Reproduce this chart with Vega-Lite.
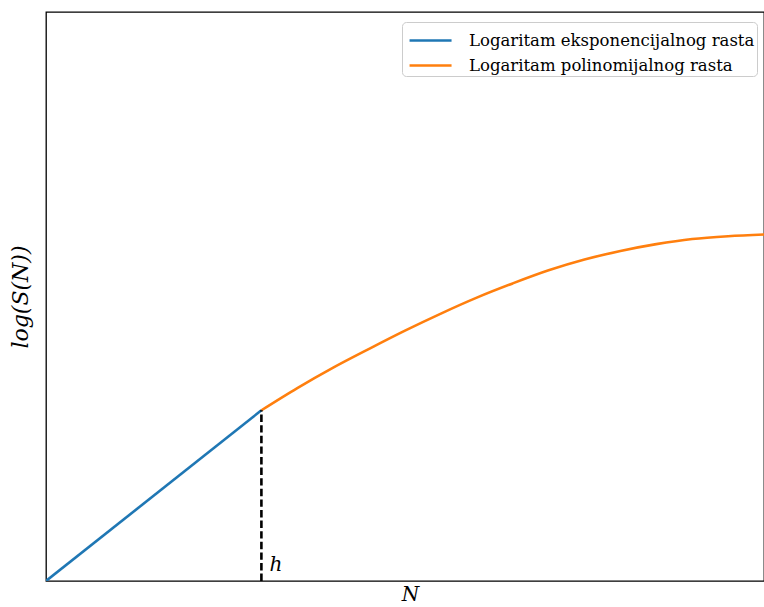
{
  "$schema": "https://vega.github.io/schema/vega-lite/v6.json",
  "width": 718,
  "height": 569,
  "autosize": {"type": "none"},
  "padding": {"left": 46, "top": 12, "right": 0, "bottom": 26},
  "background": "white",
  "config": {
    "view": {"stroke": "black", "strokeWidth": 1.3},
    "font": "DejaVu Serif"
  },
  "datasets": {
    "curves": [
      {"N": 0, "logS": 0, "series": "Logaritam eksponencijalnog rasta"},
      {"N": 3, "logS": 3, "series": "Logaritam eksponencijalnog rasta"},
      {"N": 3, "logS": 3, "series": "Logaritam polinomijalnog rasta"},
      {"N": 3.5, "logS": 3.39, "series": "Logaritam polinomijalnog rasta"},
      {"N": 4, "logS": 3.75, "series": "Logaritam polinomijalnog rasta"},
      {"N": 4.5, "logS": 4.08, "series": "Logaritam polinomijalnog rasta"},
      {"N": 5, "logS": 4.4, "series": "Logaritam polinomijalnog rasta"},
      {"N": 5.5, "logS": 4.7, "series": "Logaritam polinomijalnog rasta"},
      {"N": 6, "logS": 4.98, "series": "Logaritam polinomijalnog rasta"},
      {"N": 6.5, "logS": 5.23, "series": "Logaritam polinomijalnog rasta"},
      {"N": 7, "logS": 5.46, "series": "Logaritam polinomijalnog rasta"},
      {"N": 7.5, "logS": 5.65, "series": "Logaritam polinomijalnog rasta"},
      {"N": 8, "logS": 5.8, "series": "Logaritam polinomijalnog rasta"},
      {"N": 8.5, "logS": 5.92, "series": "Logaritam polinomijalnog rasta"},
      {"N": 9, "logS": 6.01, "series": "Logaritam polinomijalnog rasta"},
      {"N": 9.5, "logS": 6.06, "series": "Logaritam polinomijalnog rasta"},
      {"N": 10, "logS": 6.09, "series": "Logaritam polinomijalnog rasta"}
    ],
    "marker": [
      {"N": 3, "y0": 0, "y1": 3, "label": "h"}
    ]
  },
  "layer": [
    {
      "data": {"name": "curves"},
      "mark": {"type": "line", "strokeWidth": 2.6, "interpolate": "monotone", "clip": true},
      "encoding": {
        "x": {
          "field": "N", "type": "quantitative",
          "scale": {"domain": [0, 10], "nice": false, "zero": false},
          "axis": {"title": "N", "labels": false, "ticks": false, "grid": false, "domain": false,
                   "titleFont": "DejaVu Serif", "titleFontStyle": "italic", "titleFontWeight": "normal",
                   "titleFontSize": 20, "titleColor": "black", "titlePadding": 3, "titleX": 364}
        },
        "y": {
          "field": "logS", "type": "quantitative",
          "scale": {"domain": [0, 10], "nice": false, "zero": false},
          "axis": {"title": "log(S(N))", "labels": false, "ticks": false, "grid": false, "domain": false,
                   "titleFont": "DejaVu Serif", "titleFontStyle": "italic", "titleFontWeight": "normal",
                   "titleFontSize": 22, "titleColor": "black", "titlePadding": 14}
        },
        "color": {
          "field": "series", "type": "nominal",
          "scale": {"domain": ["Logaritam eksponencijalnog rasta", "Logaritam polinomijalnog rasta"],
                    "range": ["#1f77b4", "#ff7f0e"]},
          "legend": {
            "title": null,
            "orient": "none",
            "legendX": 356,
            "legendY": 10,
            "direction": "vertical",
            "symbolType": "M-0.73,0H2.07",
            "symbolSize": 900,
            "symbolStrokeWidth": 2.6,
            "labelFont": "DejaVu Serif",
            "labelFontSize": 16.5,
            "labelColor": "black",
            "labelLimit": 400,
            "labelOffset": 32,
            "rowPadding": -4,
            "padding": 2,
            "strokeColor": "#cccccc",
            "fillColor": "white",
            "cornerRadius": 4
          }
        }
      }
    },
    {
      "data": {"name": "marker"},
      "mark": {"type": "rule", "color": "black", "strokeWidth": 2.6, "strokeDash": [7.4, 3.2]},
      "encoding": {
        "x": {"field": "N", "type": "quantitative"},
        "y": {"field": "y0", "type": "quantitative"},
        "y2": {"field": "y1"}
      }
    },
    {
      "data": {"name": "marker"},
      "mark": {"type": "text", "align": "left", "baseline": "alphabetic", "dx": 8, "dy": -10,
               "font": "DejaVu Serif", "fontStyle": "italic", "fontSize": 20, "color": "black"},
      "encoding": {
        "x": {"field": "N", "type": "quantitative"},
        "y": {"field": "y0", "type": "quantitative"},
        "text": {"field": "label"}
      }
    }
  ]
}
